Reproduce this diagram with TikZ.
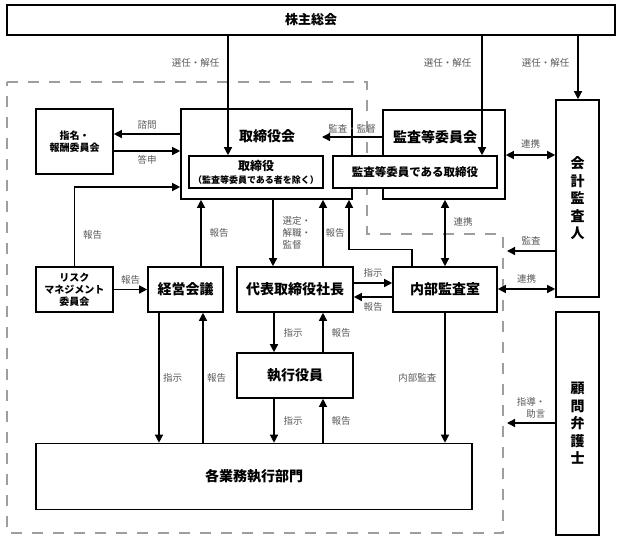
\documentclass[tikz,border=0pt]{standalone}
\usepackage{fontspec}
\setmainfont{Noto Sans CJK JP}
\usetikzlibrary{arrows.meta}

\begin{document}
\begin{tikzpicture}[x=1pt, y=-1pt, >={Triangle[length=8pt,width=8pt]}]
		\useasboundingbox (0,0) rectangle (622,541);
		\tikzstyle{area} = [draw=black!38, line width=2.5pt, dash pattern=on 11pt off 10pt]
		\tikzstyle{box} = [draw, line width=1.6pt, fill=white, inner sep=0pt, align=center, font=\bfseries\fontsize{14}{17.5}\selectfont]
		\tikzstyle{small} = [font=\bfseries\fontsize{10}{12}\selectfont]
		\tikzstyle{ttl} = [inner sep=0pt, font=\bfseries\fontsize{14}{17}\selectfont]
		\tikzstyle{lbl} = [inner sep=2pt, align=center, text=black!65, font=\fontsize{9.5}{12}\selectfont]

		\draw [area] (7,82) -- (367,82) -- (367,234) -- (503,234) -- (503,533) -- (7,533) -- cycle;

		\node [box, minimum width=608, minimum height=30, font=\bfseries\fontsize{13}{15}\selectfont] (gm) at (311,20) {株主総会};
		\node [box, minimum width=171, minimum height=90] (bod) at (266.5,154) {};
		\node [ttl] (bodt) at (267,136) {取締役会};
		\node [box, minimum width=122, minimum height=89] (acb) at (444,154.5) {};
		\node [ttl] (acbt) at (435,137) {監査等委員会};
		\node [box, minimum width=134, minimum height=32, font=\bfseries\fontsize{12}{13}\selectfont] (dir) at (256,172) {取締役\\{\fontsize{9}{10}\selectfont （監査等委員である者を除く）}};
		\node [box, minimum width=164, minimum height=32, font=\bfseries\fontsize{11.5}{13}\selectfont] (acd) at (415,172) {監査等委員である取締役};
		\node [box, minimum width=43, minimum height=197] (aud) at (577.5,198.5) {会\\計\\監\\査\\人};
		\node [box, minimum width=43, minimum height=223] (law) at (577.5,423.5) {顧\\問\\弁\\護\\士};
		\node [box, small, minimum width=77, minimum height=65] (nom) at (74.5,141.5) {指名・\\報酬委員会};
		\node [box, small, minimum width=77, minimum height=45] (risk) at (74.5,289.5) {リスク\\マネジメント\\委員会};
		\node [box, minimum width=75, minimum height=45] (mgmt) at (185.5,289.5) {経営会議};
		\node [box, minimum width=116, minimum height=45] (ceo) at (295,289.5) {代表取締役社長};
		\node [box, minimum width=104, minimum height=45] (ia) at (445,289.5) {内部監査室};
		\node [box, minimum width=116, minimum height=45] (exo) at (295,375.5) {執行役員};
		\node [box, minimum width=436, minimum height=66] (div) at (254,476.5) {各業務執行部門};
		\coordinate (bodr) at (322,137);
		\coordinate (audx) at (507,251);
		\coordinate (lawx) at (507,423);

		\tikzstyle{every path} = [line width=1.3pt]
		\draw [->] (gm.south -| 228,0) -- node[lbl, pos=.23, left=6pt] {選任・解任} (dir.north -| 228,0);
		\draw [->] (gm.south -| 482,0) -- node[lbl, pos=.23, left=8pt] {選任・解任} (acd.north -| 482,0);
		\draw [->] (gm.south -| 578,0) -- node[lbl, pos=.43, left=6pt] {選任・解任} (aud.north -| 578,0);
		\draw [->] (bod.west |- 0,134) -- node[lbl, above=2pt] {諮問} (nom.east |- 0,134);
		\draw [->] (nom.east |- 0,151) -- node[lbl, below=2pt] {答申} (bod.west |- 0,151);
		\draw [->] (acb.west |- bodr) -- node[lbl, above=1pt] {監査・監督} (bodr);
		\draw [->] (risk.north) |- node[lbl, pos=.2, right=6pt] {報告} (bod.west |- 0,187);
		\draw [->] (risk) -- node[lbl, above=3pt] {報告} (mgmt);
		\draw [->] (mgmt.north -| 201,0) -- node[lbl, right=6pt] {報告} (bod.south -| 201,0);
		\draw [->] (bod.south -| 273,0) -- node[lbl, right=7pt, align=left] {選定・\\解職・\\監督} (ceo.north -| 273,0);
		\draw [->] (ceo.north -| 323,0) -- node[lbl, right=0pt] {報告} (bod.south -| 323,0);
		\draw [->] (ia.north -| 412,0) -- ++(0,-17) -| (bod.south -| 349,0);
		\draw [<->] (acb.south -| 445,0) -- node[lbl, pos=.34, right=6pt] {連携} (ia.north -| 445,0);
		\draw [->] (ceo.east |- 0,283) -- node[lbl, above=3pt] {指示} (ia.west |- 0,283);
		\draw [->] (ia.west |- 0,297) -- node[lbl, below=3pt] {報告} (ceo.east |- 0,297);
		\draw [->] (ceo.south -| 274,0) -- node[lbl, right=7pt] {指示} (exo.north -| 274,0);
		\draw [->] (exo.north -| 323,0) -- node[lbl, right=6pt] {報告} (ceo.south -| 323,0);
		\draw [->] (mgmt.south -| 159,0) -- node[lbl, right=1.5pt] {指示} (div.north -| 159,0);
		\draw [->] (div.north -| 203,0) -- node[lbl, right=1.5pt] {報告} (mgmt.south -| 203,0);
		\draw [->] (ia.south -| 445,0) -- node[lbl, left=6pt] {内部監査} (div.north -| 445,0);
		\draw [->] (exo.south -| 274,0) -- node[lbl, right=7pt] {指示} (div.north -| 274,0);
		\draw [->] (div.north -| 323,0) -- node[lbl, right=6pt] {報告} (exo.south -| 323,0);
		\draw [<->] (acb.east |- 0,155) -- node[lbl, above=4pt] {連携} (aud.west |- 0,155);
		\draw [->] (aud.west |- audx) -- node[lbl, above=3pt] {監査} (audx);
		\draw [<->] (ia.east |- 0,289) -- node[lbl, above=3pt] {連携} (aud.west |- 0,289);
		\draw [->] (law.west |- lawx) -- node[lbl, above=2pt, align=right] {指導・\\助言} (lawx);
\end{tikzpicture}
\end{document}
